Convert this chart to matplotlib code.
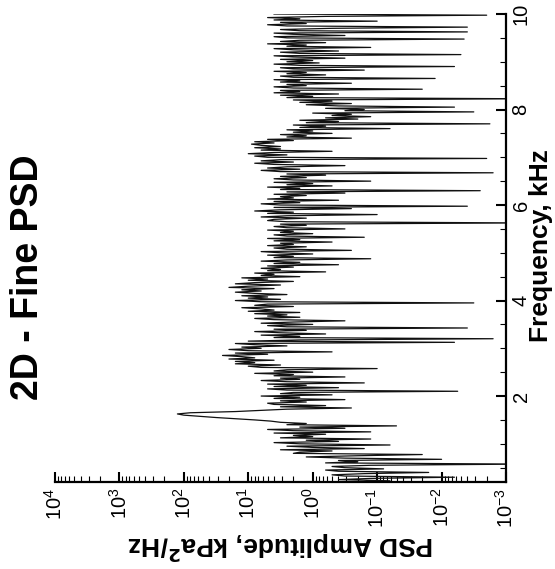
import numpy as np
import matplotlib
matplotlib.use("Agg")
import matplotlib.pyplot as plt
from matplotlib.ticker import FixedLocator, MultipleLocator, LogLocator

plt.rcParams['font.family'] = ['Liberation Sans', 'DejaVu Sans']

# frequency grid, kHz (step 0.025 kHz)
freq_start = 0.2
freq_step = 0.025
freq_ticks = [2, 4, 6, 8, 10]

# log10 of PSD amplitude (kPa^2/Hz), read block by block (0.5 kHz per row)
log_psd = [
    # 0.200 - 0.675
    -0.6, -1.2, -0.4, -0.9, -2.2, -0.5, -0.3, -0.8, -1.8, -0.4,
    -0.2, -1.1, -0.5, -0.3, -0.9, -3.3, -0.2, -0.7, -0.4, -2.0,
    # 0.700 - 1.175
    -0.5, 0.1, -0.7, -1.7, 0.3, 0.2, -0.3, 0.5, -0.8, 0.0,
    0.4, -1.2, 0.2, 0.6, -0.4, 0.1, -0.9, 0.5, 0.0, 0.3,
    # 1.200 - 1.675
    -0.2, 0.6, -0.9, 0.3, 0.7, -0.5, 0.2, -1.3, 0.4, 0.1,
    0.5, 0.65, 0.9, 1.2, 1.5, 1.75, 2.0, 2.1, 1.9, 1.2,
    # 1.700 - 2.175
    0.8, 0.4, -0.6, 0.5, -0.2, 0.6, 0.7, 0.1, 0.5, -0.5,
    0.6, 0.2, 0.8, -0.3, 0.5, 0.3, -2.25, 0.4, 0.7, -0.4,
    # 2.200 - 2.675
    0.6, 0.1, 0.7, -0.8, 0.4, 0.8, 0.2, 0.5, -0.5, 0.6,
    0.3, 0.9, 0.0, 0.6, 0.4, -1.0, 0.8, 1.0, 0.5, 1.2,
    # 2.700 - 3.175
    0.9, 1.2, 0.6, 1.3, 0.9, 1.1, 1.4, 0.7, 1.2, -0.3,
    1.0, 1.3, 0.8, 1.1, 0.4, 0.9, 1.2, -2.2, 1.0, 0.2,
    # 3.200 - 3.675
    -2.8, 0.6, 0.2, 0.8, -0.2, 0.5, 0.9, 0.1, 0.6, -2.4,
    0.4, 0.7, 0.0, 0.8, 0.3, -0.5, 0.6, 0.9, 0.2, 0.7,
    # 3.700 - 4.175
    0.4, 0.9, 0.2, 1.0, 0.6, 0.8, 1.1, 0.3, 0.9, 0.7,
    -2.5, 0.8, 1.2, 0.5, 1.0, 0.7, 1.1, 0.4, 0.9, 1.2,
    # 4.200 - 4.675
    0.8, 1.1, 0.6, 1.3, 1.0, 0.5, 1.2, 0.9, 0.3, 1.0,
    0.7, 1.1, 0.2, 0.8, 0.6, 0.9, -0.2, 0.7, 0.5, 0.8,
    # 4.700 - 5.175
    0.3, 0.7, -0.4, 0.6, 0.2, 0.8, 0.4, -0.9, 0.6, 0.3,
    0.7, 0.0, 0.5, 0.8, -0.6, 0.4, 0.6, 0.1, 0.7, 0.3,
    # 5.200 - 5.675
    0.5, -0.3, 0.6, 0.2, 0.7, -0.8, 0.4, 0.6, 0.0, 0.5,
    0.3, 0.7, -0.5, 0.4, 0.6, 0.1, 0.5, -3.3, 0.4, 0.7,
    # 5.700 - 6.175
    0.6, 0.1, 0.8, 0.4, -1.0, 0.7, 0.3, 0.9, 0.5, -0.6,
    0.6, -2.4, 0.5, 0.8, 0.2, 0.6, -0.4, 0.7, 0.3, 0.5,
    # 6.200 - 6.675
    0.1, 0.6, -0.5, 0.4, -2.6, 0.5, 0.2, 0.7, -0.3, 0.4,
    0.0, 0.6, -0.9, 0.3, 0.6, 0.1, 0.5, -0.2, 0.4, -2.8,
    # 6.700 - 7.175
    0.5, 0.8, 0.2, 0.7, 0.4, -0.5, 0.6, 0.9, 0.3, 0.8,
    0.5, -2.7, 0.7, 0.9, 0.4, 1.0, 0.6, -0.3, 0.8, 0.5,
    # 7.200 - 7.675
    0.9, 0.5, 0.8, 0.95, 0.6, 0.9, 0.3, 0.7, -0.6, 0.4,
    0.1, 0.5, -0.3, 0.3, 0.0, 0.4, -1.2, 0.2, -0.2, 0.3,
    # 7.700 - 8.175
    -2.75, 0.1, -0.4, 0.2, -0.7, -0.2, -0.9, -0.3, -0.6, 0.0,
    -2.5, -0.5, -0.8, -0.2, -2.2, -0.4, 0.1, -0.6, 0.2, -0.3,
    # 8.200 - 8.675
    0.3, -3.3, 0.4, 0.0, 0.5, -0.4, 0.6, 0.2, 0.5, -1.7,
    0.3, 0.6, 0.1, 0.4, -0.6, 0.5, 0.2, 0.6, -1.9, 0.3,
    # 8.700 - 9.175
    0.5, -0.2, 0.4, 0.1, 0.6, -0.8, 0.3, 0.5, -2.2, 0.2,
    0.6, -0.1, 0.4, 0.0, 0.5, -0.5, 0.3, 0.6, -2.3, 0.2,
    # 9.200 - 9.675
    0.5, -0.4, 0.3, 0.6, -0.9, 0.4, 0.1, 0.7, -0.2, 0.5,
    0.2, -2.35, 0.4, 0.6, -0.5, 0.3, 0.6, -2.4, 0.2, 0.5,
    # 9.700 - 10.000
    -0.3, -2.4, 0.4, 0.7, 0.1, 0.5, -1.0, 0.6, 0.2, 0.7,
    -0.2, -2.7, 0.6,
]

freq = freq_start + freq_step * np.arange(len(log_psd))
psd = 10.0 ** np.array(log_psd)

fig = plt.figure(figsize=(5.55, 5.69), dpi=100)
ax = fig.add_axes([0.0991, 0.1529, 0.8126, 0.8225])

# chart is turned on its side: PSD runs horizontally, frequency vertically
ax.plot(psd, freq, color='#111111', lw=0.9)

ax.set_xscale('log')
ax.set_xlim(1e4, 1e-3)
ax.set_ylim(0.2, 10)

ax.xaxis.set_major_locator(LogLocator(base=10, numticks=10))
ax.xaxis.set_minor_locator(LogLocator(base=10, subs=np.arange(2, 10), numticks=20))
ax.yaxis.set_major_locator(FixedLocator(freq_ticks))
ax.yaxis.set_minor_locator(MultipleLocator(0.5))

ax.yaxis.tick_right()
for side in ('top', 'left'):
    ax.spines[side].set_visible(False)
for side in ('bottom', 'right'):
    ax.spines[side].set_linewidth(1.6)

ax.tick_params(which='major', direction='in', length=7.5, width=1.5,
               labelsize=14.5, pad=4)
ax.tick_params(which='minor', direction='in', length=4.5, width=0.8)
ax.tick_params(axis='x', labelrotation=90)
ax.tick_params(axis='y', labelrotation=90)
for lab in ax.get_yticklabels():
    lab.set_verticalalignment('center')

fig.text(0.05, 0.513, '2D - Fine PSD', rotation=90, fontsize=27,
         fontweight='bold', ha='center', va='center')
fig.text(0.975, 0.568, 'Frequency, kHz', rotation=90, fontsize=19,
         fontweight='bold', ha='center', va='center')
fig.text(0.5054, 0.040, 'PSD Amplitude, kPa$^\\mathbf{2}$/Hz', rotation=180,
         fontsize=19, fontweight='bold', ha='center', va='center')

fig.savefig('out.png', dpi=100)
